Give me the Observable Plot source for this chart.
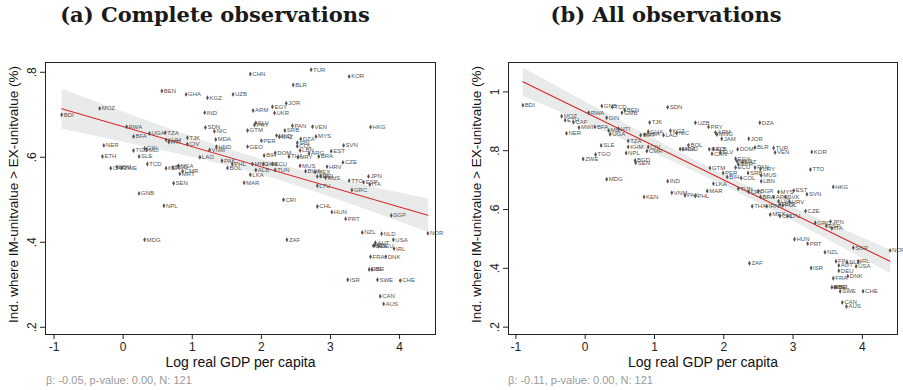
<!DOCTYPE html>
<html>
<head>
<meta charset="utf-8">
<script src="https://cdn.jsdelivr.net/npm/d3@7"></script>
<script src="https://cdn.jsdelivr.net/npm/@observablehq/plot@0.6"></script>
<style>
  body { margin: 0; background: #fff; }
  #wrap { position: relative; width: 903px; height: 390px; overflow: hidden; font-family: "Liberation Sans", Arial, sans-serif; }
  .title { position: absolute; top: 2px; font-family: "DejaVu Serif", serif; font-weight: bold; font-size: 21px; color: #1a1a1a; white-space: nowrap; transform: translateX(-50%); }
  .note { position: absolute; top: 374px; font-size: 11px; color: #9a9a9a; white-space: nowrap; }
  .panel { position: absolute; top: 0; }
</style>
</head>
<body>
<div id="wrap"></div>
<script>
// (a) Complete observations: log real GDP per capita vs share of industries
const codesA = ["BDI","MOZ","NER","ETH","CAF","MWI","ZWE","RWA","BFA","TGO","SLE","GNB","GIN","MDG","MLI","TCD","UGA","BEN","NPL","TZA","KHM","KEN","HTI","BGD","SEN","NGA","MRT","CMR","GHA","TJK","CIV","LAO","IND","SDN","KGZ","VNM","NIC","MDA","HND","PAK","BOL","PHL","UZB","MAR","GTM","GEO","CHN","LKA","MNG","ARM","PRY","ALB","SLV","PER","JAM","BIH","ECU","EGY","UKR","TUN","DOM","MKD","KAZ","CRI","SRB","JOR","ZAF","THA","PAN","BLR","IRN","COL","URY","LBN","MUS","DZA","BWA","ARG","TUR","VEN","MEX","MYS","LVA","LTU","CHL","BRA","POL","RUS","HRV","EST","HUN","CZE","SVN","PRT","ISR","KOR","TTO","GRC","NZL","ESP","JPN","GBR","ITA","HKG","FRA","ISL","BEL","FIN","AUT","SWE","DEU","CAN","NLD","AUS","DNK","SGP","USA","IRL","CHE","NOR"];
const gdpA = [-0.89,-0.34,-0.28,-0.30,-0.18,-0.09,-0.02,0.05,0.15,0.15,0.23,0.23,0.31,0.31,0.34,0.35,0.38,0.56,0.59,0.61,0.62,0.62,0.66,0.72,0.73,0.80,0.82,0.86,0.91,0.93,0.93,1.11,1.18,1.19,1.22,1.25,1.32,1.34,1.35,1.43,1.51,1.58,1.59,1.75,1.80,1.80,1.84,1.84,1.87,1.88,1.90,1.92,1.92,2.00,2.03,2.04,2.16,2.16,2.19,2.20,2.20,2.22,2.26,2.32,2.34,2.36,2.37,2.40,2.45,2.46,2.52,2.52,2.53,2.56,2.56,2.57,2.64,2.69,2.72,2.74,2.78,2.79,2.81,2.81,2.81,2.83,2.86,2.93,2.95,3.01,3.02,3.18,3.19,3.22,3.25,3.27,3.27,3.31,3.46,3.48,3.55,3.56,3.57,3.58,3.58,3.60,3.62,3.64,3.65,3.68,3.70,3.72,3.74,3.77,3.80,3.88,3.91,3.92,4.01,4.41];
const shareA = [0.700,0.715,0.628,0.602,0.574,0.577,0.575,0.672,0.649,0.616,0.602,0.515,0.621,0.406,0.618,0.584,0.656,0.756,0.486,0.658,0.641,0.574,0.636,0.576,0.539,0.580,0.561,0.567,0.748,0.646,0.631,0.600,0.705,0.670,0.740,0.617,0.661,0.642,0.625,0.592,0.575,0.584,0.748,0.540,0.663,0.625,0.796,0.559,0.584,0.710,0.676,0.570,0.681,0.639,0.584,0.604,0.584,0.719,0.704,0.570,0.610,0.651,0.648,0.500,0.663,0.727,0.406,0.602,0.674,0.770,0.634,0.626,0.600,0.616,0.580,0.643,0.567,0.609,0.806,0.672,0.565,0.649,0.555,0.533,0.484,0.602,0.556,0.552,0.578,0.614,0.471,0.588,0.628,0.455,0.312,0.790,0.545,0.523,0.423,0.541,0.555,0.336,0.536,0.671,0.366,0.336,0.392,0.393,0.399,0.312,0.391,0.273,0.420,0.255,0.366,0.463,0.406,0.385,0.310,0.421];

// (b) All observations
const codesB = ["BDI","MOZ","ETH","NER","CAF","MWI","ZWE","RWA","BFA","TGO","SLE","GNB","GIN","MDG","MLI","UGA","TCD","HTI","GMB","BEN","NPL","TZA","KHM","BGD","SEN","MRT","KEN","NGA","CMR","GHA","CIV","TJK","LAO","IND","SDN","KGZ","VNM","NIC","MDA","HND","PAK","BOL","UZB","PHL","MAR","PRY","GEO","GTM","CHN","LKA","ALB","ARM","MNG","SLV","JAM","PER","BIH","ECU","EGY","MKD","DOM","UKR","TUN","COL","KAZ","SRB","JOR","CRI","ZAF","THA","PAN","BLR","BGR","DZA","URY","BRA","MUS","LBN","IRN","MEX","TUR","ARG","VEN","MYS","LVA","RUS","CHL","POL","SVK","LTU","HRV","EST","HUN","CZE","SVN","PRT","TTO","ISR","KOR","GRC","NZL","ESP","JPN","ITA","GBR","HKG","FRA","ISL","FIN","BEL","AUT","DEU","SWE","CAN","AUS","NLD","DNK","SGP","USA","IRL","CHE","NOR"];
const gdpB = [-0.90,-0.34,-0.29,-0.27,-0.17,-0.09,-0.03,0.05,0.14,0.15,0.23,0.24,0.31,0.31,0.34,0.36,0.39,0.48,0.53,0.57,0.59,0.62,0.62,0.72,0.73,0.80,0.85,0.86,0.89,0.91,0.91,0.93,1.13,1.19,1.19,1.23,1.25,1.32,1.37,1.41,1.44,1.49,1.59,1.59,1.76,1.78,1.79,1.80,1.83,1.85,1.85,1.88,1.90,1.95,1.97,1.99,2.05,2.17,2.17,2.19,2.20,2.21,2.21,2.25,2.27,2.35,2.36,2.36,2.37,2.41,2.45,2.45,2.50,2.52,2.53,2.53,2.54,2.54,2.62,2.67,2.72,2.72,2.74,2.79,2.79,2.81,2.81,2.85,2.89,2.92,2.95,3.01,3.02,3.18,3.20,3.21,3.25,3.26,3.27,3.32,3.46,3.48,3.54,3.56,3.56,3.58,3.58,3.60,3.62,3.62,3.66,3.66,3.68,3.71,3.77,3.78,3.79,3.87,3.91,3.94,4.01,4.40];
const shareB = [0.955,0.917,0.904,0.859,0.897,0.879,0.772,0.929,0.881,0.787,0.818,0.952,0.912,0.703,0.869,0.856,0.949,0.875,0.929,0.938,0.792,0.833,0.813,0.767,0.759,0.853,0.643,0.855,0.799,0.865,0.813,0.896,0.853,0.696,0.948,0.868,0.657,0.860,0.806,0.805,0.648,0.819,0.895,0.646,0.663,0.881,0.805,0.741,0.790,0.688,0.806,0.862,0.855,0.794,0.841,0.724,0.711,0.743,0.773,0.764,0.805,0.754,0.671,0.707,0.760,0.724,0.841,0.660,0.417,0.611,0.743,0.811,0.663,0.895,0.738,0.643,0.716,0.696,0.611,0.583,0.809,0.643,0.794,0.660,0.628,0.617,0.578,0.614,0.643,0.578,0.626,0.665,0.499,0.595,0.652,0.484,0.736,0.401,0.796,0.555,0.455,0.544,0.559,0.536,0.336,0.677,0.366,0.336,0.424,0.336,0.410,0.392,0.322,0.284,0.270,0.420,0.373,0.470,0.407,0.423,0.322,0.461];

// Axis ticks and their labels
const xTicks = [-1, 0, 1, 2, 3, 4];
const xTickLabels = ["-1", "0", "1", "2", "3", "4"];
const yTicksA = [0.2, 0.4, 0.6, 0.8];
const yTickLabelsA = [".2", ".4", ".6", ".8"];
const yTicksB = [0.2, 0.4, 0.6, 0.8, 1];
const yTickLabelsB = [".2", ".4", ".6", ".8", "1"];

const titles = ["(a) Complete observations", "(b) All observations"];
const notes = ["β: -0.05, p-value: 0.00, N: 121", "β: -0.11, p-value: 0.00, N: 121"];
const xLabel = "Log real GDP per capita";
const yLabel = "Ind. where IM-unitvalue > EX-unitvalue (%)";

function rowsOf(codes, gdp, share) {
  return codes.map((c, i) => ({code: c, gdp: gdp[i], share: share[i]}));
}

function panel({rows, xDomain, yDomain, yTicks, yTickLabels, width, marginLeft, marginRight}) {
  return Plot.plot({
    width, height: 372,
    marginTop: 62, marginBottom: 38, marginLeft, marginRight,
    style: {fontFamily: "'Liberation Sans', Arial, sans-serif", background: "transparent", overflow: "visible", color: "#222"},
    x: {domain: xDomain, axis: null},
    y: {domain: yDomain, axis: null},
    marks: [
      Plot.linearRegressionY(rows, {x: "gdp", y: "share", ci: 0.95, stroke: "#d62728", strokeWidth: 1.1, fill: "#d3d8d8", fillOpacity: 0.5}),
      Plot.dot(rows, {x: "gdp", y: "share", symbol: "diamond", r: 1.5, fill: "#555", stroke: "none"}),
      Plot.text(rows, {x: "gdp", y: "share", text: "code", dx: 2, textAnchor: "start", fontSize: 6, fill: "#555"}),
      Plot.frame({stroke: "#222", strokeWidth: 1}),
      Plot.axisX(xTicks, {tickSize: 5, tickPadding: 3, fontSize: 12, tickFormat: (d) => xTickLabels[xTicks.indexOf(d)], label: null}),
      Plot.axisY(yTicks, {tickSize: 5, tickFormat: () => "", label: null}),
      Plot.text(yTicks, {y: (d) => d, text: (d, i) => yTickLabels[i], frameAnchor: "left", textAnchor: "middle", lineAnchor: "middle", dx: -13, rotate: -90, fontSize: 12, fill: "#222"}),
      Plot.text([xLabel], {frameAnchor: "bottom", textAnchor: "middle", lineAnchor: "middle", dy: 28, fontSize: 14, fill: "#111"}),
      Plot.text([yLabel], {frameAnchor: "left", textAnchor: "middle", lineAnchor: "middle", dx: -32, dy: -4, rotate: -90, fontSize: 13.5, fill: "#111"})
    ]
  });
}

const wrap = document.getElementById("wrap");
const specs = [
  {left: 0, width: 451, marginLeft: 45, marginRight: 16, rows: rowsOf(codesA, gdpA, shareA),
   xDomain: [-1.124, 4.52], yDomain: [0.183, 0.823], yTicks: yTicksA, yTickLabels: yTickLabelsA, titleX: 215, noteX: 46},
  {left: 451, width: 452, marginLeft: 57, marginRight: 6, rows: rowsOf(codesB, gdpB, shareB),
   xDomain: [-1.107, 4.507], yDomain: [0.175, 1.1], yTicks: yTicksB, yTickLabels: yTickLabelsB, titleX: 666, noteX: 508}
];
specs.forEach((s, i) => {
  const box = document.createElement("div");
  box.className = "panel";
  box.style.left = s.left + "px";
  box.appendChild(panel(s));
  wrap.appendChild(box);
  const t = document.createElement("div");
  t.className = "title";
  t.style.left = s.titleX + "px";
  t.textContent = titles[i];
  wrap.appendChild(t);
  const n = document.createElement("div");
  n.className = "note";
  n.style.left = s.noteX + "px";
  n.textContent = notes[i];
  wrap.appendChild(n);
});
</script>
</body>
</html>
